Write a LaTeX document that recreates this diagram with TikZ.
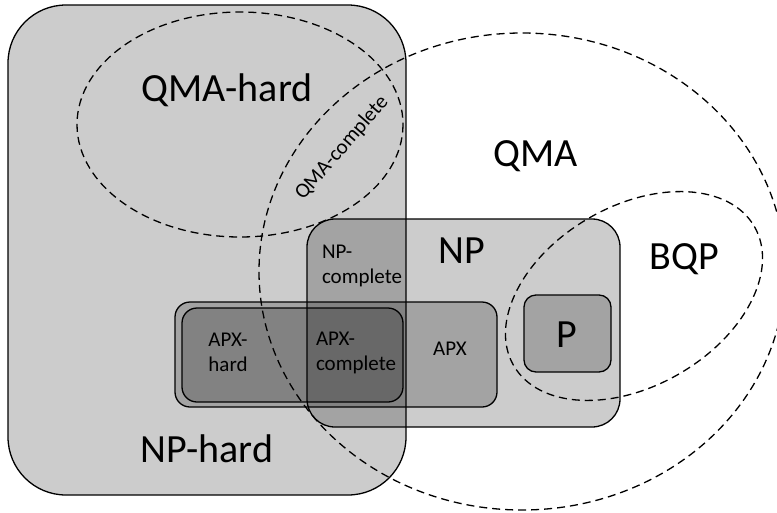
\documentclass[tikz,border=0pt]{standalone}
\usepackage{fontspec}
\setmainfont{Carlito}

\begin{document}
\begin{tikzpicture}[x=1pt, y=-1pt, line width=1.3pt,
		set/.style={draw=black, fill=black, fill opacity=0.2},
		bound/.style={draw=black, dash pattern=on 8pt off 5pt},
		big/.style={font=\fontsize{40}{44}\selectfont, inner sep=0pt, anchor=base},
		small/.style={font=\fontsize{21}{25}\selectfont, inner sep=0pt, align=left}]
		\useasboundingbox (0,0) rectangle (777,512);
		% classical classes
		\draw[set, rounded corners=58pt] (8,5) rectangle (406,495);
		\draw[set, rounded corners=28pt] (307,219) rectangle (620,427);
		\draw[set, rounded corners=15pt] (175,302) rectangle (497,407);
		\draw[set, rounded corners=15pt] (182,308) rectangle (403,402);
		\draw[set, rounded corners=12pt] (524,295) rectangle (611,372);
		% quantum classes
		\begin{scope}
			\clip (0,0) rectangle (777,512);
			\draw[bound] (522,271.5) ellipse [x radius=263, y radius=238.5];
		\end{scope}
		\draw[bound] (240,124.5) ellipse [x radius=163, y radius=112.5];
		\draw[bound, rotate around={30:(634,296)}] (634,296) ellipse [x radius=139, y radius=90];
		% labels
		\node[big] (qmahard) at (227,101) {QMA-hard};
		\node[big] (qma) at (536,166) {QMA};
		\node[big] (nphard) at (207,462) {NP-hard};
		\node[big] (np) at (462,263) {NP};
		\node[big] (bqp) at (684,269) {BQP};
		\node[big] (p) at (567,347) {P};
		\node[small, rotate=49] (qmacomplete) at (342,148) {QMA-complete};
		\node[small] (npcomplete) at (362,266) {NP-\\complete};
		\node[small] (apxhard) at (228,352) {APX-\\hard};
		\node[small] (apxcomplete) at (356,353) {APX-\\complete};
		\node[small, anchor=base] (apx) at (450,355) {APX};
\end{tikzpicture}
\end{document}
